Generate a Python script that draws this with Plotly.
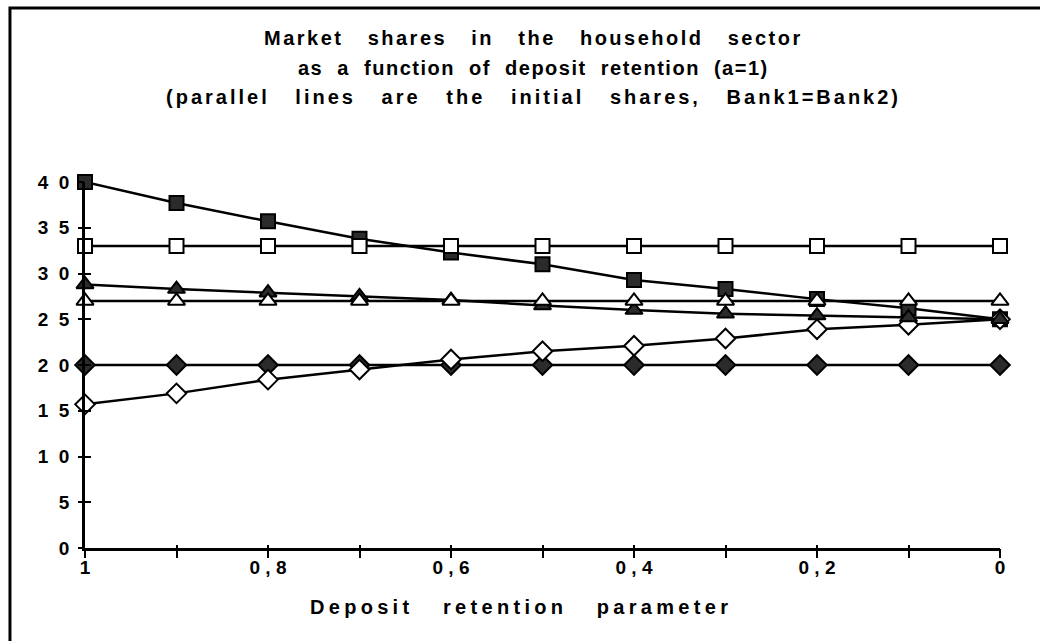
import plotly.graph_objects as go

# ---- data ----
retention = [1.0, 0.9, 0.8, 0.7, 0.6, 0.5, 0.4, 0.3, 0.2, 0.1, 0.0]
bank1_large = [40.0, 37.7, 35.7, 33.8, 32.3, 31.0, 29.3, 28.3, 27.2, 26.2, 25.0]
init_large = [33, 33, 33, 33, 33, 33, 33, 33, 33, 33, 33]
bank1_mid = [28.8, 28.3, 27.9, 27.5, 27.1, 26.5, 26.0, 25.6, 25.4, 25.2, 25.0]
init_mid = [27, 27, 27, 27, 27, 27, 27, 27, 27, 27, 27]
init_small = [20, 20, 20, 20, 20, 20, 20, 20, 20, 20, 20]
bank1_small = [15.7, 16.9, 18.4, 19.5, 20.6, 21.5, 22.1, 22.9, 23.9, 24.4, 25.0]

x_tickvals = [1.0, 0.9, 0.8, 0.7, 0.6, 0.5, 0.4, 0.3, 0.2, 0.1, 0.0]
x_ticktext = ["1", "", "0 , 8", "", "0 , 6", "", "0 , 4", "", "0 , 2", "", "0"]
y_tickvals = [0, 5, 10, 15, 20, 25, 30, 35, 40]
y_ticktext = ["0", "5", "1\u00a0\u00a00", "1\u00a0\u00a05", "2\u00a0\u00a00",
              "2\u00a0\u00a05", "3\u00a0\u00a00", "3\u00a0\u00a05", "4\u00a0\u00a00"]

title_lines = [
    "Market shares in the household sector",
    "as a function of deposit retention (a=1)",
    "(parallel lines are the initial shares, Bank1=Bank2)",
]
x_title = "Deposit retention parameter"

FONT = "Liberation Sans, Arial, sans-serif"
DARK = "#2b2b2b"

fig = go.Figure()

series = [
    (bank1_large, "square", DARK, 14),
    (init_small, "diamond", DARK, 15),
    (bank1_small, "diamond", "white", 15),
    (bank1_mid, "triangle-up", DARK, 15),
    (init_large, "square", "white", 14),
    (init_mid, "triangle-up", "white", 15),
]
for ys, sym, fill, size in series:
    fig.add_trace(go.Scatter(
        x=retention, y=ys, mode="lines+markers",
        line=dict(color="black", width=2.5),
        marker=dict(symbol=sym, size=size, color=fill,
                    line=dict(color="black", width=2)),
        cliponaxis=False, showlegend=False, hoverinfo="skip",
    ))

# invisible trace on the overlay axes (carry the outer half of the ticks)
fig.add_trace(go.Scatter(x=[retention[0]], y=[y_tickvals[0]], xaxis="x2", yaxis="y2",
                         mode="markers", marker=dict(opacity=0), showlegend=False,
                         hoverinfo="skip"))

tick_font = dict(family=FONT, size=19, color="black", weight=700)

fig.update_layout(
    width=1040, height=641,
    margin=dict(l=85, r=40, t=182, b=93),
    paper_bgcolor="white", plot_bgcolor="white",
    xaxis=dict(range=[1.0, 0.0], tickvals=x_tickvals, ticktext=x_ticktext,
               ticks="inside", ticklen=3, tickwidth=2, tickcolor="black",
               showline=True, linecolor="black", linewidth=2.5,
               showgrid=False, zeroline=False, tickfont=tick_font,
               ticklabelstandoff=0, automargin=False),
    yaxis=dict(range=[0, 40], tickvals=y_tickvals, ticktext=y_ticktext,
               ticks="inside", ticklen=6, tickwidth=2, tickcolor="black",
               showline=True, linecolor="black", linewidth=2.5,
               showgrid=False, zeroline=False, tickfont=tick_font,
               ticklabelstandoff=9, automargin=False),
    xaxis2=dict(range=[1.0, 0.0], overlaying="x", tickvals=x_tickvals,
                ticks="outside", ticklen=9, tickwidth=2, tickcolor="black",
                showticklabels=False, showgrid=False, zeroline=False, side="bottom"),
    yaxis2=dict(range=[0, 40], overlaying="y", tickvals=y_tickvals,
                ticks="outside", ticklen=6, tickwidth=2, tickcolor="black",
                showticklabels=False, showgrid=False, zeroline=False, side="left"),
)

def spaced(t, ls, gap):
    return '<span style="letter-spacing:{}px">{}</span>'.format(ls, t.replace(" ", gap))

GAP3 = "\u00a0\u00a0 "
GAP2 = "\u00a0 "
for line, yp, ls, gap in zip(title_lines, [1.393, 1.311, 1.232],
                             [2.5, 1.5, 3.0], [GAP3, GAP2, GAP3]):
    fig.add_annotation(text=spaced(line, ls, gap), x=0.49, y=yp,
                       xref="paper", yref="paper",
                       showarrow=False, xanchor="center", yanchor="middle",
                       font=dict(family=FONT, size=20, color="black", weight=700))

fig.add_annotation(text=spaced(x_title, 4.3, GAP3), x=0.477, y=-0.161,
                   xref="paper", yref="paper",
                   showarrow=False, xanchor="center", yanchor="middle",
                   font=dict(family=FONT, size=20, color="black", weight=700))

# frame around the figure (only top and left edges are visible in the reference)
fig.add_shape(type="rect", xref="paper", yref="paper",
              x0=-0.082, x1=1.2, y0=-0.4, y1=1.4754,
              line=dict(color="black", width=3), layer="above")

fig.write_html("out.html", config={"displayModeBar": False},
               post_script="document.body.style.margin='0';")
